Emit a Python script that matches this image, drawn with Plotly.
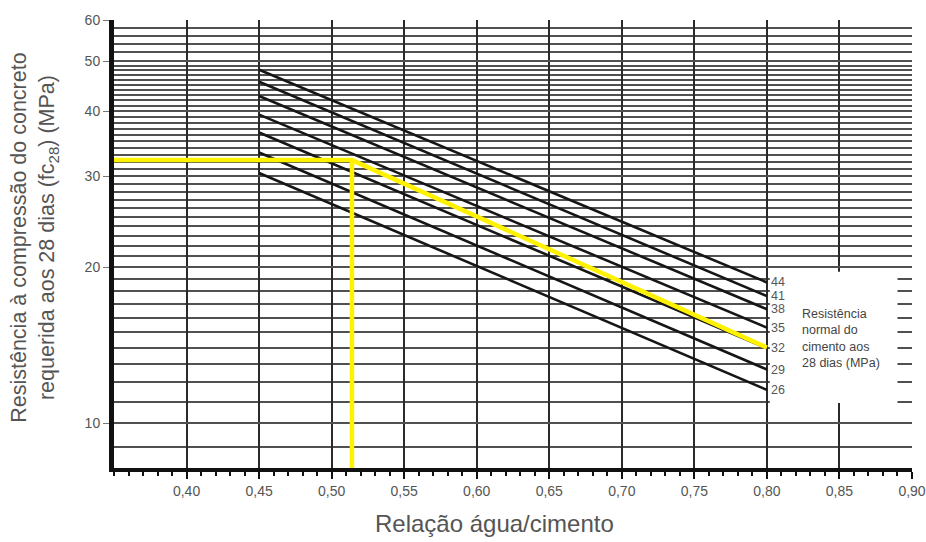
import math
import plotly.graph_objects as go

# ---- data ----
cement_strength = [26, 29, 32, 35, 38, 41, 44]          # MPa, curve labels
wc_start = 0.45
wc_end = 0.80
fc_at_start = [30.4, 33.3, 36.4, 39.4, 42.8, 45.6, 48.1]  # fc28 at a/c = 0.45
fc_at_end = [11.6, 12.7, 13.96, 15.3, 16.6, 17.6, 18.7]   # fc28 at a/c = 0.80

# yellow example path (required fc28 = 32 MPa cement)
example_fc = 32.2
example_wc = 0.514
example_path_x = [0.35, example_wc, 0.80]
example_path_y = [example_fc, example_fc, 14.0]

x_ticks = [0.40, 0.45, 0.50, 0.55, 0.60, 0.65, 0.70, 0.75, 0.80, 0.85, 0.90]
x_tick_labels = ["0,40", "0,45", "0,50", "0,55", "0,60", "0,65", "0,70",
                 "0,75", "0,80", "0,85", "0,90"]
y_ticks = [10, 20, 30, 40, 50, 60]
y_tick_labels = ["10", "20", "30", "40", "50", "60"]
y_minor_grid = [9] + [v for v in range(11, 50) if v % 10 != 0] + [52, 54, 56, 58]

x_min, x_max = 0.35, 0.90
y_min, y_max = 8.2, 60

FONT = "Liberation Sans, Arial, sans-serif"

fig = go.Figure()

for c, y0, y1 in zip(cement_strength, fc_at_start, fc_at_end):
    fig.add_trace(go.Scatter(
        x=[wc_start, wc_end], y=[y0, y1], mode="lines",
        line=dict(color="#161616", width=2.6), showlegend=False,
        hoverinfo="skip"))

# yellow example
fig.add_trace(go.Scatter(
    x=example_path_x, y=example_path_y, mode="lines",
    line=dict(color="#fff200", width=4.5), showlegend=False))
fig.add_trace(go.Scatter(
    x=[example_wc, example_wc], y=[example_fc, y_min], mode="lines",
    line=dict(color="#fff200", width=4.5), showlegend=False))

# white box behind the curve labels (covers grid only)
fig.add_shape(type="rect", xref="x", yref="y",
              x0=0.802, x1=0.890, y0=10.95, y1=19.6,
              fillcolor="white", line=dict(width=0), layer="between")

for c, y1 in zip(cement_strength, fc_at_end):
    fig.add_annotation(x=wc_end, y=math.log10(y1), xref="x", yref="y",
                       text=str(c), showarrow=False, xanchor="left",
                       yanchor="middle", xshift=2,
                       font=dict(family=FONT, size=12.5, color="#555"))

fig.add_annotation(x=0.823, y=math.log10(14.6), xref="x", yref="y",
                   text="Resistência<br>normal do<br>cimento aos<br>28 dias (MPa)",
                   showarrow=False, xanchor="left", yanchor="middle", align="left",
                   font=dict(family=FONT, size=12.5, color="#444"))

fig.add_annotation(x=0.477, y=-0.09, xref="paper", yref="paper",
                   text="Relação água/cimento", showarrow=False,
                   xanchor="center", yanchor="top",
                   font=dict(family=FONT, size=24, color="#555"))

fig.add_annotation(x=-0.0996, y=0.515, xref="paper", yref="paper",
                   text="Resistência à compressão do concreto<br>requerida aos 28 dias (fc<sub>28</sub>) (MPa)",
                   showarrow=False, textangle=-90, xanchor="center", yanchor="middle",
                   font=dict(family=FONT, size=21.5, color="#555"))

fig.update_layout(
    width=926, height=542,
    margin=dict(l=114, r=14, t=20, b=74, autoexpand=False),
    paper_bgcolor="white", plot_bgcolor="white",
    xaxis=dict(
        range=[x_min, x_max], tickmode="array", tickvals=x_ticks, ticktext=x_tick_labels,
        ticks="outside", ticklen=7, tickwidth=2, tickcolor="#111", automargin=False,
        showgrid=True, gridcolor="#2a2a2a", gridwidth=1.5,
        showline=True, linecolor="#111", linewidth=4, zeroline=False,
        minor=dict(dtick=0.01, tick0=0.35, ticks="outside", ticklen=4,
                   tickwidth=2, tickcolor="#111", showgrid=False),
        tickfont=dict(family=FONT, size=14, color="#555"),
    ),
    yaxis=dict(
        type="log", range=[math.log10(y_min), math.log10(y_max)],
        tickmode="array", tickvals=y_ticks, ticktext=y_tick_labels, automargin=False,
        ticks="outside", ticklen=6, tickwidth=1, tickcolor="#777",
        showgrid=True, gridcolor="#505050", gridwidth=1.6,
        showline=True, linecolor="#111", linewidth=5, zeroline=False,
        minor=dict(tickmode="array", tickvals=y_minor_grid, showgrid=True,
                   gridcolor="#505050", gridwidth=1.6, ticks=""),
        tickfont=dict(family=FONT, size=14, color="#555"),
    ),
)

fig.write_html("out.html", config={"displayModeBar": False},
               post_script="document.body.style.margin='0';document.body.style.overflow='hidden';")
